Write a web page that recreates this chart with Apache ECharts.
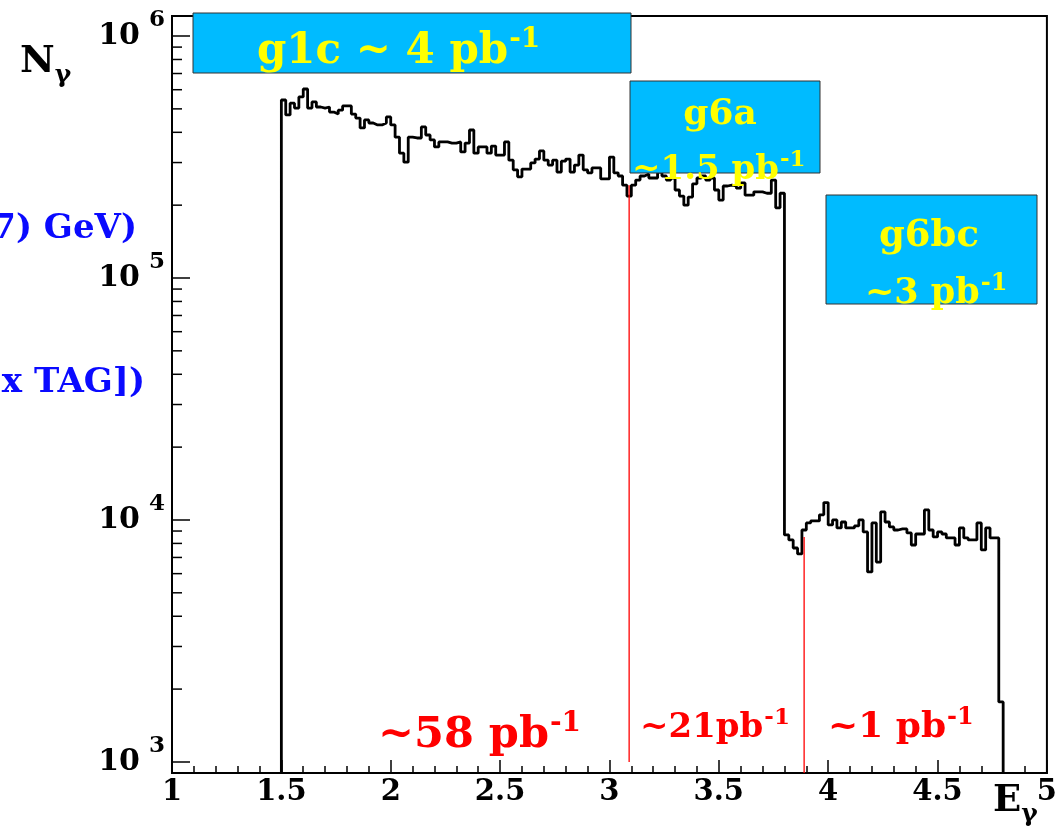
<!DOCTYPE html>
<html><head><meta charset="utf-8">
<script src="https://cdn.jsdelivr.net/npm/echarts@6/dist/echarts.min.js"></script>
<style>html,body{margin:0;padding:0;background:#fff}#c{width:1060px;height:830px}</style>
</head><body><div id="c"></div>
<script>
// ---- data ----
const binStart = 1.5;      // lower edge of first bin (GeV)
const binWidth = 0.02;     // bin width (GeV)
const counts = [
 544000,472000,528000,504000,560000,604000,504000,534000,509000,504000,
 509000,485000,476000,494000,514000,514000,476000,458000,417000,450000,
 437000,429000,429000,437000,463000,429000,382000,328000,301000,382000,
 379000,379000,421000,390000,372000,348000,365000,365000,361000,361000,
 365000,332000,361000,409000,328000,348000,348000,328000,351000,322000,
 322000,365000,307000,280000,262000,282000,282000,299000,310000,335000,
 307000,293000,307000,274000,304000,310000,274000,293000,322000,280000,
 272000,285000,285000,257000,257000,316000,272000,264000,242000,218000,
 242000,254000,264000,269000,259000,259000,274000,264000,254000,259000,
 231000,218000,200000,216000,245000,259000,264000,254000,259000,231000,
 210000,240000,242000,240000,235000,247000,220000,220000,227000,227000,
 224000,224000,254000,195000,224000,
 8670,8270,7660,7240,9090,9720,9910,9910,10500,11800,
 9540,10000,9270,9810,9270,9270,9450,10000,8920,6100,
 9720,6700,10800,9810,9360,9090,9180,9180,8840,7880,
 8750,8750,11000,9090,8510,8920,8750,8430,8430,7880,
 9270,8430,8270,8270,9720,7520,9270,8430,8430,
 1770
];
const xTickLabels = ['1','1.5','2','2.5','3','3.5','4','4.5','5'];
const yMin = 900, yMax = 1.21e6;
const yMinorTicks = [2000,3000,4000,5000,6000,7000,8000,9000,
  20000,30000,40000,50000,60000,70000,80000,90000,
  200000,300000,400000,500000,600000,700000,800000,900000];
const lumiLines = [ {x:3.09, from:1000, to:242000}, {x:3.89, from:900, to:8500} ];
const periodBoxes = ['g1c ~ 4 pb', 'g6a', '~1.5 pb', 'g6bc', '~3 pb'];
const lumiLabels = ['~58 pb', '~21pb', '~1 pb'];

// ---- build ----
const FF = "'DejaVu Serif', serif";
const pts = [[binStart, yMin]];
counts.forEach((c, k) => pts.push([+(binStart + k*binWidth).toFixed(4), c]));
const xEnd = +(binStart + counts.length*binWidth).toFixed(4);
pts.push([xEnd, counts[counts.length-1]]);
pts.push([xEnd, yMin]);

const chart = echarts.init(document.getElementById('c'), null, {renderer:'canvas'});

function sup(main, s, size, ssize, raise, color, gap) {
  return {
    text: '{m|' + main + '}{s|' + s + '}',
    rich: {
      m: {fontSize:size, fontFamily:FF, fontWeight:'bold', fill:color},
      s: {fontSize:ssize, fontFamily:FF, fontWeight:'bold', fill:color, padding:[0,0,2*raise,gap||0]}
    }
  };
}
function txt(x, y, spec, align) {
  return {type:'text', x:x, y:y, z:100, style:Object.assign({align:align||'left', verticalAlign:'middle'}, spec)};
}
function box(x, y, w, h) {
  return {type:'rect', z:90, shape:{x:x, y:y, width:w, height:h}, style:{fill:'#00bbff', stroke:'#333', lineWidth:1}};
}

const option = {
  animation:false,
  backgroundColor:'#fff',
  grid:{left:172, right:12, top:16, bottom:57, show:true, borderColor:'#000', borderWidth:2, backgroundColor:'transparent'},
  xAxis:{
    type:'value', min:1, max:5, interval:0.5,
    axisLine:{lineStyle:{color:'#000', width:2}},
    axisTick:{inside:true, length:13, lineStyle:{color:'#000', width:1.5}},
    minorTick:{show:true, splitNumber:5, length:7, lineStyle:{color:'#000', width:1.5}},
    splitLine:{show:false},
    axisLabel:{color:'#000', fontFamily:FF, fontWeight:'bold', fontSize:29, margin:5,
      formatter:(v)=>{ const i = Math.round((v-1)/0.5); return Math.abs(v-1-i*0.5)<1e-6 ? xTickLabels[i] : ''; }}
  },
  yAxis:{
    type:'log', logBase:10, min:yMin, max:yMax,
    axisLine:{lineStyle:{color:'#000', width:2}},
    axisTick:{inside:true, length:18, lineStyle:{color:'#000', width:1.5}},
    splitLine:{show:false},
    axisLabel:{margin:7,
      formatter:(v)=>{ const l = Math.log10(v); const r = Math.round(l); if (Math.abs(l-r)>1e-4) return ''; return '{b|10}{e|' + r + '}'; },
      rich:{
        b:{fontSize:30, fontFamily:FF, fontWeight:'bold', color:'#000'},
        e:{fontSize:23, fontFamily:FF, fontWeight:'bold', color:'#000', padding:[0,0,32,9]}
      }}
  },
  series:[
    {type:'line', data:pts, step:'end', symbol:'none', z:5,
     lineStyle:{color:'#000', width:2.8}},
    ...lumiLines.map(l => ({type:'line', data:[[l.x, l.from],[l.x, l.to]], symbol:'none', z:6,
      lineStyle:{color:'#ff0000', width:1.3}})),
    {type:'custom', z:7, silent:true,
     data: yMinorTicks.map(v => [1, v]),
     renderItem:(params, api) => {
       const p = api.coord([api.value(0), api.value(1)]);
       return {type:'line', shape:{x1:p[0], y1:p[1], x2:p[0]+10, y2:p[1]}, style:{stroke:'#000', lineWidth:1.5}};
     }}
  ],
  graphic:[
    box(193, 13, 438, 60),
    box(630, 81, 190, 92),
    box(826, 195, 211, 109),
    txt(257, 52, sup(periodBoxes[0], '-1', 42, 28, 12, '#ffff00', 1)),
    txt(720, 115, {text:periodBoxes[1], font:"bold 36px 'DejaVu Serif'", fill:'#ffff00'}, 'center'),
    txt(632, 170, sup(periodBoxes[2], '-1', 34, 23, 10, '#ffff00', 1)),
    txt(929, 236, {text:periodBoxes[3], font:"bold 37px 'DejaVu Serif'", fill:'#ffff00'}, 'center'),
    txt(865, 294, sup(periodBoxes[4], '-1', 35, 24, 10, '#ffff00', 1)),
    txt(378, 736, sup(lumiLabels[0], '-1', 43, 28, 12, '#ff0000', 1)),
    txt(640, 728, sup(lumiLabels[1], '-1', 34, 23, 10, '#ff0000', 1)),
    txt(828, 728, sup(lumiLabels[2], '-1', 36, 24, 10, '#ff0000', 1)),
    txt(20, 62, {text:'{n|N}{g|γ}', rich:{
        n:{fontSize:38, fontFamily:FF, fontWeight:'bold', fill:'#000'},
        g:{fontSize:25, fontFamily:FF, fontWeight:'bold', fill:'#000', padding:[26,0,0,0]}}}),
    txt(993, 801, {text:'{n|E}{g|γ}', rich:{
        n:{fontSize:37, fontFamily:FF, fontWeight:'bold', fill:'#000'},
        g:{fontSize:25, fontFamily:FF, fontWeight:'bold', fill:'#000', padding:[26,0,0,0]}}}),
    txt(137, 229, {text:'7) GeV)', font:"bold 34px 'DejaVu Serif'", fill:'#0a0aff'}, 'right'),
    txt(145, 383, {text:'x TAG])', font:"bold 34px 'DejaVu Serif'", fill:'#0a0aff'}, 'right')
  ]
};
chart.setOption(option);
</script></body></html>
